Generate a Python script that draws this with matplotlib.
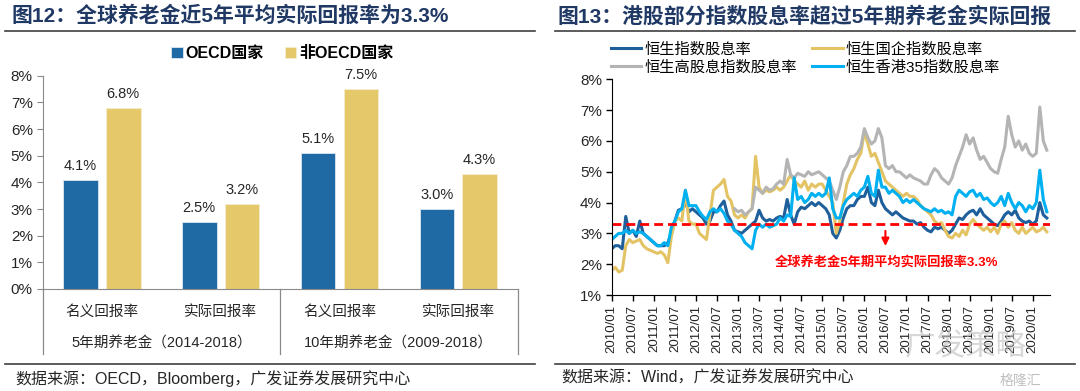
import numpy as np
import matplotlib.pyplot as plt
from matplotlib.lines import Line2D

plt.rcParams['font.family'] = ['Liberation Sans', 'Noto Sans CJK SC']
plt.rcParams['axes.unicode_minus'] = False

## left chart: pension fund returns
periods = ['5年期养老金（2014-2018）', '10年期养老金（2009-2018）']
measures = ['名义回报率', '实际回报率', '名义回报率', '实际回报率']
oecd = [4.1, 2.5, 5.1, 3.0]
non_oecd = [6.8, 3.2, 7.5, 4.3]

## right chart: monthly dividend yields (%), 2010/01 - 2020/05
hsi = [2.5, 2.6, 2.6, 2.5, 3.55, 3.0, 3.1, 2.9, 3.4, 3.0, 2.9, 2.8,
       2.7, 2.6, 2.6, 2.6, 2.7, 3.0, 3.4, 3.75, 3.8, 4.0, 3.7, 3.8,
       3.7, 3.6, 3.5, 3.3, 3.4, 3.7, 3.7, 3.9, 4.05, 3.6, 3.4, 3.1,
       3.05, 3.0, 3.1, 3.2, 3.3, 3.4, 3.75, 3.5, 3.4, 3.45, 3.4, 3.5,
       3.55, 3.5, 4.1, 3.6, 3.3, 3.7, 3.85, 3.8, 3.9, 4.0, 3.9, 4.0,
       3.9, 3.8, 3.6, 3.0, 2.85, 3.1, 3.5, 3.8, 3.9, 3.9, 4.1, 4.2,
       4.2, 4.5, 4.0, 3.9, 4.4, 4.0, 3.8, 3.7, 3.6, 3.7, 3.6, 3.5,
       3.45, 3.4, 3.4, 3.3, 3.35, 3.2, 3.1, 3.05, 3.2, 3.15, 3.2, 3.1,
       3.0, 3.1, 3.3, 3.5, 3.45, 3.6, 3.7, 3.75, 3.6, 3.8, 3.6, 3.5,
       3.4, 3.3, 3.25, 3.4, 3.6, 3.7, 3.6, 3.75, 3.5, 3.4, 3.35, 3.4,
       3.3, 3.4, 4.0, 3.6, 3.5]
hscei = [1.8, 1.9, 1.75, 1.8, 2.6, 2.8, 2.7, 2.75, 2.8, 2.6, 2.5, 2.45,
         2.4, 2.35, 2.4, 2.3, 2.05, 2.9, 3.4, 3.5, 3.4, 4.4, 3.4, 3.3,
         3.3, 3.0, 2.9, 2.8, 3.6, 4.4, 4.5, 4.6, 4.75, 4.2, 4.05, 3.6,
         3.5, 3.6, 3.5, 3.7, 3.8, 5.5, 4.5, 4.3, 4.4, 4.35, 4.4, 4.5,
         4.4, 4.5, 4.7, 4.9, 4.7, 4.6, 4.5, 4.7, 4.4, 4.6, 4.5, 4.6,
         4.6, 4.4, 4.2, 4.0, 3.0, 3.4, 4.0, 4.6, 4.9, 5.1, 5.4, 5.6,
         6.3, 5.9, 5.5, 5.6, 5.3, 5.0, 4.7, 4.6, 4.5, 4.4, 4.3, 4.2,
         4.3, 4.2, 4.2, 4.1, 3.9, 3.8, 3.7, 3.6, 3.4, 3.3, 3.35, 3.1,
         2.9, 2.85, 3.0, 2.9, 3.1, 2.95, 3.3, 3.45, 3.3, 3.2, 3.1, 3.2,
         3.05, 3.2, 3.0, 3.3, 3.4, 3.2, 3.35, 3.1, 3.0, 3.2, 3.0, 3.1,
         3.2, 3.05, 3.1, 3.2, 3.05]
hshdy = [None] * 35 + [
         3.8,
         3.7, 3.75, 3.6, 3.7, 3.8, 4.5, 4.4, 4.3, 4.5, 4.4, 4.45, 4.6,
         4.7, 4.6, 5.4, 4.9, 4.8, 4.95, 4.9, 4.85, 5.0, 4.9, 4.95, 5.0,
         4.9, 4.8, 4.7, 4.4, 4.1, 4.5, 5.0, 5.2, 5.5, 5.5, 5.6, 5.8,
         6.4, 6.1, 5.9, 6.0, 6.4, 6.1, 5.2, 5.1, 5.2, 5.0, 5.0, 4.9,
         4.8, 4.9, 4.8, 4.75, 4.7, 4.6, 4.6, 4.9, 5.1, 5.0, 4.8, 4.7,
         4.6, 4.8, 5.2, 5.5, 5.8, 6.2, 5.9, 6.1, 5.7, 5.4, 5.5, 5.3,
         5.1, 5.0, 4.95, 5.4, 5.8, 6.8, 6.2, 5.8, 6.0, 5.7, 5.9, 5.6,
         5.5, 5.6, 7.1, 6.0, 5.7]
hk35 = [2.8, 2.9, 3.0, 3.0, 3.1, 3.0, 3.1, 3.0, 3.05, 3.0, 2.9, 2.8,
        2.7, 2.6, 2.6, 2.7, 2.6, 3.2, 3.4, 3.7, 3.8, 4.4, 3.9, 3.9,
        3.9, 3.7, 3.55, 3.45, 3.7, 3.8, 3.7, 3.8, 3.65, 3.4, 3.3, 3.1,
        3.0, 2.9, 2.7, 2.6, 2.5, 3.1, 3.3, 3.2, 3.3, 3.2, 3.25, 3.3,
        3.5, 3.4, 3.6, 3.55, 4.8, 4.1, 4.2, 4.0, 4.1, 4.3, 4.2, 4.3,
        4.2, 4.3, 4.8, 3.8, 3.5, 3.5, 3.9, 4.1, 4.2, 4.3, 4.2, 4.4,
        4.5, 4.85, 4.3, 4.2, 5.05, 4.5, 4.5, 4.3, 4.4, 4.3, 4.2, 4.0,
        4.1, 4.0, 4.1, 4.0, 3.9, 3.8, 3.75, 3.7, 3.8, 3.7, 3.75, 3.65,
        3.7, 3.6, 4.2, 4.4, 4.3, 4.2, 4.35, 4.4, 4.2, 4.3, 4.1, 4.15,
        4.0, 3.9, 4.0, 4.2, 3.9, 4.3, 4.0, 3.8, 4.0, 3.9, 3.7, 3.9,
        3.8, 4.0, 5.05, 4.1, 3.7]
series_names = ['恒生指数股息率', '恒生国企指数股息率', '恒生高股息指数股息率', '恒生香港35指数股息率']
pension_real = 3.3
xtick_pos = list(range(0, 121, 6))
xtick_labels = ['2010/01', '2010/07', '2011/01', '2011/07', '2012/01', '2012/07',
                '2013/01', '2013/07', '2014/01', '2014/07', '2015/01', '2015/07',
                '2016/01', '2016/07', '2017/01', '2017/07', '2018/01', '2018/07',
                '2019/01', '2019/07', '2020/01']

BLUE = '#1f6aa5'
YELLOW = '#e5c869'
TITLE = '#1f3864'

fig = plt.figure(figsize=(10.8, 3.91), dpi=100)

## ---------------- left panel ----------------
ax1 = fig.add_axes([0.0394, 0.261, 0.4398, 0.545])
x = np.arange(len(oecd))
ax1.bar(x - 0.18, oecd, 0.29, color=BLUE, edgecolor='#dde7f1', linewidth=0.6, label='OECD国家')
ax1.bar(x + 0.18, non_oecd, 0.29, color=YELLOW, edgecolor='#f4ecd0', linewidth=0.6, label='非OECD国家')
for xi, v in zip(x, oecd):
    ax1.annotate(f'{v:.1f}%', (xi - 0.18, v), xytext=(0, 5), textcoords='offset points',
                 ha='center', va='bottom', fontsize=10.5, color='#262626')
for xi, v in zip(x, non_oecd):
    ax1.annotate(f'{v:.1f}%', (xi + 0.18, v), xytext=(0, 5), textcoords='offset points',
                 ha='center', va='bottom', fontsize=10.5, color='#262626')
ax1.set_xlim(-0.5, 3.5)
ax1.set_ylim(0, 8)
ax1.set_yticks(range(9))
ax1.set_yticklabels([f'{i}%' for i in range(9)])
ax1.set_xticks([])
for s in ['top', 'right']:
    ax1.spines[s].set_visible(False)
for s in ['left', 'bottom']:
    ax1.spines[s].set_color('#8a8a8a')
ax1.tick_params(axis='y', direction='out', length=4, color='#8a8a8a', labelsize=11, pad=3, labelcolor='#262626')
tr = ax1.get_xaxis_transform()
for i, m in enumerate(measures):
    ax1.text(i, -0.108, m, transform=tr, ha='center', va='center', fontsize=10.5, color='#262626')
ax1.text(0.5, -0.258, periods[0], transform=tr, ha='center', va='center', fontsize=10.5, color='#262626')
ax1.text(2.5, -0.258, periods[1], transform=tr, ha='center', va='center', fontsize=10.5, color='#262626')
for xs in [-0.5, 1.5, 3.5]:
    ax1.plot([xs, xs], [0, -0.305], transform=tr, color='#8a8a8a', lw=0.9, clip_on=False)
ax1.legend(loc='center', bbox_to_anchor=(0.505, 1.103), ncol=2, frameon=False,
           handlelength=0.7, handleheight=0.7, handletextpad=0.2, columnspacing=1.3,
           prop={'size': 11.5, 'weight': 'bold'})

## ---------------- right panel ----------------
ax2 = fig.add_axes([0.5664, 0.2455, 0.4058, 0.5517])
months = np.arange(len(hsi))
colors = ['#1f5f9c', '#e3c363', '#b4b4b4', '#00b0f0']
lines = []
for vals, c, name in zip([hsi, hscei, hshdy, hk35], colors, series_names):
    arr = np.array([np.nan if v is None else v for v in vals], dtype=float)
    ln, = ax2.plot(months, arr, color=c, lw=2.2, label=name, solid_joinstyle='round')
    lines.append(ln)
ax2.axhline(pension_real, color='red', lw=2, dashes=(3.2, 1.8))
ax2.annotate('', xy=(78, 2.5), xytext=(78, 3.17),
             arrowprops=dict(arrowstyle='-|>', color='red', lw=1.5, mutation_scale=11))
ax2.text(78.2, 2.07, '全球养老金5年期平均实际回报率3.3%', color='red', ha='center', va='center',
         fontsize=9.5, fontweight='bold')
ax2.set_xlim(0, 124.9)
ax2.set_ylim(1, 8)
ax2.set_yticks(range(1, 9))
ax2.set_yticklabels([f'{i}%' for i in range(1, 9)])
ax2.set_xticks(xtick_pos)
ax2.set_xticklabels(xtick_labels, rotation=90)
for s in ['top', 'right']:
    ax2.spines[s].set_visible(False)
ax2.tick_params(axis='both', direction='out', length=4, width=1, labelcolor='#262626')
ax2.tick_params(axis='y', labelsize=11, pad=3)
ax2.tick_params(axis='x', labelsize=9.5, pad=3)
ax2.legend([lines[0], lines[2], lines[1], lines[3]],
           [series_names[0], series_names[2], series_names[1], series_names[3]],
           loc='center left', bbox_to_anchor=(-0.02, 1.097), ncol=2, frameon=False,
           handlelength=2.0, handletextpad=0.2, columnspacing=1.0, labelspacing=0.25,
           borderpad=0, prop={'size': 11})

## ---------------- titles, rules, sources ----------------
fig.text(0.011, 0.959, '图12：全球养老金近5年平均实际回报率为3.3%', fontsize=15, fontweight='bold',
         color=TITLE, va='center')
fig.text(0.516, 0.959, '图13：港股部分指数股息率超过5年期养老金实际回报', fontsize=15, fontweight='bold',
         color=TITLE, va='center')
for x0, x1 in [(0.005, 0.495), (0.514, 0.995)]:
    fig.add_artist(Line2D([x0, x1], [0.921, 0.921], color='#404040', lw=1.2, transform=fig.transFigure))
    fig.add_artist(Line2D([x0, x1], [0.069, 0.069], color='#404040', lw=1.2, transform=fig.transFigure))
fig.text(0.014, 0.033, '数据来源：OECD，Bloomberg，广发证券发展研究中心', fontsize=11.5, color='#262626', va='center')
fig.text(0.520, 0.033, '数据来源：Wind，广发证券发展研究中心', fontsize=11.5, color='#262626', va='center')

# watermark
fig.text(0.894, 0.115, '广发策略', fontsize=22, color='#bdbdbd', alpha=0.6, ha='center', va='center')
fig.text(0.945, 0.025, '格隆汇', fontsize=10, color='#b0b0b0', alpha=0.8, ha='center', va='center')

fig.savefig('out.png', dpi=100)
